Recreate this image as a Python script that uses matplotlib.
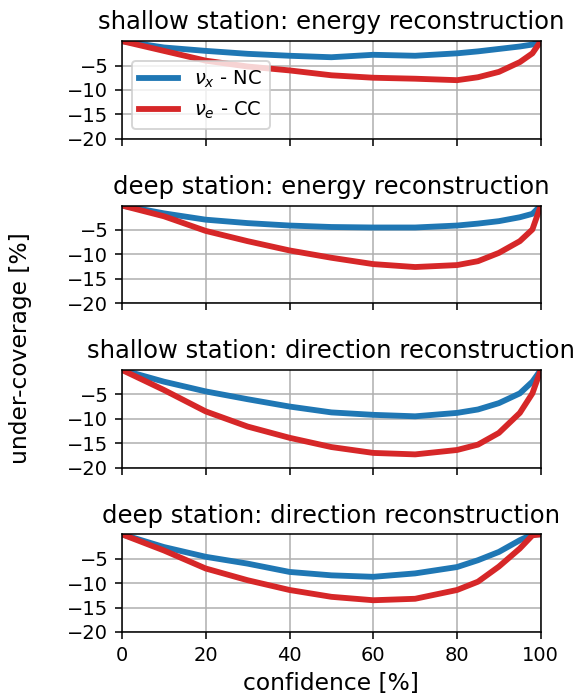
import matplotlib.pyplot as plt

# confidence grid [%]
conf = [0, 10, 20, 30, 40, 50, 60, 70, 80, 85, 90, 95, 98, 100]

titles = ['shallow station: energy reconstruction',
          'deep station: energy reconstruction',
          'shallow station: direction reconstruction',
          'deep station: direction reconstruction']

# under-coverage [%], nu_x - NC
nc_shallow_energy = [0, -1.3, -2.0, -2.6, -3.0, -3.3, -2.8, -3.0, -2.5, -2.1, -1.6, -1.1, -0.7, 0]
nc_deep_energy = [0, -1.6, -2.9, -3.6, -4.1, -4.4, -4.5, -4.5, -4.1, -3.7, -3.2, -2.4, -1.7, 0]
nc_shallow_dir = [0, -2.4, -4.4, -6.0, -7.5, -8.7, -9.2, -9.5, -8.8, -8.1, -6.8, -4.8, -2.4, 0]
nc_deep_dir = [0, -2.6, -4.6, -6.0, -7.7, -8.4, -8.7, -8.0, -6.7, -5.3, -3.6, -1.2, 0, 0]

# under-coverage [%], nu_e - CC
cc_shallow_energy = [0, -2.0, -4.0, -5.2, -6.0, -7.0, -7.5, -7.7, -8.0, -7.4, -6.3, -4.3, -2.5, 0]
cc_deep_energy = [0, -2.2, -5.2, -7.3, -9.2, -10.7, -12.0, -12.6, -12.2, -11.4, -9.7, -7.3, -4.9, 0]
cc_shallow_dir = [0, -4.1, -8.5, -11.6, -13.9, -15.8, -17.0, -17.3, -16.4, -15.3, -12.9, -8.8, -4.8, 0]
cc_deep_dir = [0, -3.3, -7.0, -9.4, -11.4, -12.8, -13.5, -13.2, -11.4, -9.7, -6.6, -2.9, -0.2, 0]

nc = [nc_shallow_energy, nc_deep_energy, nc_shallow_dir, nc_deep_dir]
cc = [cc_shallow_energy, cc_deep_energy, cc_shallow_dir, cc_deep_dir]

fig, axes = plt.subplots(4, 1, figsize=(579 / 140, 697 / 140), dpi=140, sharex=True)
fig.subplots_adjust(left=0.2107, right=0.934, top=0.941, bottom=0.0933, hspace=0.684)

for i, ax in enumerate(axes):
    ax.plot(conf, nc[i], color='tab:blue', lw=3, label=r'$\nu_x$ - NC')
    ax.plot(conf, cc[i], color='tab:red', lw=3, label=r'$\nu_e$ - CC')
    ax.set_title(titles[i], fontsize=12.5)
    ax.set_xlim(0, 100)
    ax.set_ylim(-20, 0)
    ax.set_yticks([-5, -10, -15, -20])
    ax.tick_params(labelsize=10)
    ax.grid(True)

axes[0].legend(loc='lower left', fontsize=10)
axes[-1].set_xlabel('confidence [%]', fontsize=12)
fig.text(0.036, 0.5, 'under-coverage [%]', rotation=90, va='center', ha='center', fontsize=12)

plt.savefig('out.png')
